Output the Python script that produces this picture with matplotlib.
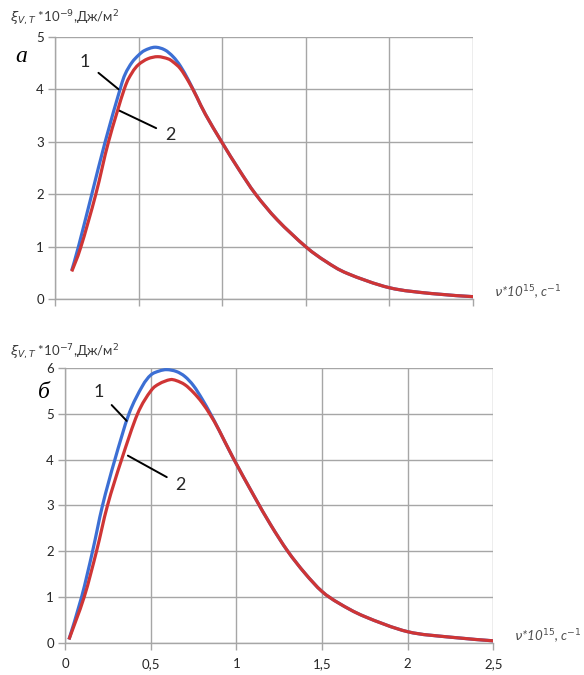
import matplotlib
matplotlib.use("Agg")
import matplotlib.pyplot as plt
from matplotlib.path import Path
from matplotlib.patches import PathPatch

plt.rcParams['font.family'] = ['Lato', 'Noto Sans', 'DejaVu Sans']
plt.rcParams['mathtext.fontset'] = 'dejavusans'

# panel a (values *10^-9)
a_x1 = [0.10, 0.14, 0.22, 0.30, 0.389, 0.42, 0.46, 0.50, 0.537, 0.597, 0.656, 0.706,
        0.75, 0.80, 0.85, 0.90, 1.00, 1.10, 1.20, 1.33, 1.50, 1.62, 1.75, 2.00, 2.25, 2.50]
a_y1 = [0.55, 1.0, 2.0, 3.0, 4.0, 4.29, 4.51, 4.65, 4.74, 4.80, 4.75, 4.62,
        4.44, 4.16, 3.84, 3.52, 2.98, 2.47, 2.0, 1.51, 1.0, 0.72, 0.49, 0.22, 0.11, 0.05]
a_x2 = [0.10, 0.155, 0.244, 0.32, 0.414, 0.46, 0.50, 0.555, 0.615, 0.675, 0.706,
        0.75, 0.80, 0.85, 0.90, 1.00, 1.10, 1.20, 1.33, 1.50, 1.62, 1.75, 2.00, 2.25, 2.50]
a_y2 = [0.53, 1.0, 2.0, 3.0, 4.0, 4.31, 4.47, 4.58, 4.62, 4.58, 4.52,
        4.39, 4.14, 3.84, 3.52, 2.98, 2.47, 2.0, 1.51, 1.0, 0.72, 0.49, 0.22, 0.11, 0.05]

# panel b (values *10^-7)
b_x1 = [0.023, 0.097, 0.161, 0.219, 0.291, 0.373, 0.45, 0.50, 0.55, 0.595, 0.65, 0.70,
        0.75, 0.80, 0.85, 0.90, 0.98, 1.10, 1.20, 1.30, 1.40, 1.50, 1.60, 1.75, 2.00,
        2.25, 2.50]
b_y1 = [0.07, 1.0, 2.0, 3.0, 4.0, 5.0, 5.6, 5.85, 5.94, 5.97, 5.93, 5.82,
        5.62, 5.33, 5.0, 4.64, 4.05, 3.23, 2.58, 2.0, 1.52, 1.12, 0.86, 0.57, 0.24,
        0.12, 0.04]
b_x2 = [0.023, 0.112, 0.184, 0.248, 0.33, 0.423, 0.50, 0.55, 0.612, 0.65, 0.70,
        0.75, 0.80, 0.85, 0.90, 0.98, 1.10, 1.20, 1.30, 1.40, 1.50, 1.60, 1.75, 2.00,
        2.25, 2.50]
b_y2 = [0.07, 1.0, 2.0, 3.0, 4.0, 5.0, 5.5, 5.66, 5.75, 5.73, 5.64,
        5.47, 5.25, 4.97, 4.64, 4.05, 3.23, 2.58, 2.0, 1.52, 1.12, 0.86, 0.57, 0.24,
        0.12, 0.04]

x_ticks = [0, 0.5, 1, 1.5, 2, 2.5]
x_tick_labels = ['0', '0,5', '1', '1,5', '2', '2,5']

blue = '#3c6fd4'
red = '#cf3535'
grid_c = '#a6a6a6'

fig = plt.figure(figsize=(5.84, 6.75), dpi=100)
ax_a = fig.add_axes([0.0942, 0.5566, 0.7158, 0.389])
ax_b = fig.add_axes([0.1113, 0.0479, 0.7334, 0.4065])


def style(ax, ymax, labels):
    ax.set_xlim(0, 2.5)
    ax.set_ylim(0, ymax)
    ax.set_xticks(x_ticks)
    ax.set_yticks(range(ymax + 1))
    if labels:
        ax.set_xticklabels(x_tick_labels)
    else:
        ax.set_xticklabels([])
    ax.grid(True, color=grid_c, lw=1.0)
    ax.set_axisbelow(True)
    for s in ['top', 'right']:
        ax.spines[s].set_visible(False)
    for s in ['left', 'bottom']:
        ax.spines[s].set_color(grid_c)
        ax.spines[s].set_linewidth(1.0)
    ax.tick_params(length=5, width=1.0, color=grid_c, labelsize=9.5,
                   labelcolor='#262626', pad=3)
    ax.tick_params(axis='x', pad=6)


def smooth_line(ax, xs, ys, color, z):
    # excel-like smoothed line: cubic bezier segments through the points
    pts = list(zip(xs, ys))
    n = len(pts)
    verts = [pts[0]]
    codes = [Path.MOVETO]
    for i in range(n - 1):
        p0 = pts[max(i - 1, 0)]
        p1 = pts[i]
        p2 = pts[i + 1]
        p3 = pts[min(i + 2, n - 1)]
        c1 = (p1[0] + (p2[0] - p0[0]) / 6, p1[1] + (p2[1] - p0[1]) / 6)
        c2 = (p2[0] - (p3[0] - p1[0]) / 6, p2[1] - (p3[1] - p1[1]) / 6)
        verts += [c1, c2, p2]
        codes += [Path.CURVE4] * 3
    patch = PathPatch(Path(verts, codes), facecolor='none', edgecolor=color,
                      lw=2.3, capstyle='butt', joinstyle='round', zorder=z)
    ax.add_patch(patch)


style(ax_a, 5, False)
style(ax_b, 6, True)

smooth_line(ax_a, a_x1, a_y1, blue, 3)
smooth_line(ax_a, a_x2, a_y2, red, 4)
smooth_line(ax_b, b_x1, b_y1, blue, 3)
smooth_line(ax_b, b_x2, b_y2, red, 4)

lbl_kw = dict(fontsize=13, color='#262626', ha='center', va='center')
line_kw = dict(arrowstyle='-', color='black', lw=1.4, shrinkA=5, shrinkB=0)

ax_a.annotate('1', xy=(0.38, 4.0), xytext=(0.18, 4.52), arrowprops=line_kw, **lbl_kw)
ax_a.annotate('2', xy=(0.38, 3.6), xytext=(0.69, 3.13), arrowprops=line_kw, **lbl_kw)
ax_b.annotate('1', xy=(0.36, 4.85), xytext=(0.198, 5.49), arrowprops=line_kw, **lbl_kw)
ax_b.annotate('2', xy=(0.367, 4.09), xytext=(0.676, 3.45), arrowprops=line_kw, **lbl_kw)

fig.text(15 / 584, 1 - 57 / 675, 'а', fontsize=17, style='italic',
         family='Liberation Serif', ha='left', va='center')
fig.text(38 / 584, 1 - 393 / 675, 'б', fontsize=17, style='italic',
         family='Liberation Serif', ha='left', va='center')

ylab_kw = dict(fontsize=9.5, color='#3a3a3a', ha='left', va='center')
fig.text(10 / 584, 1 - 18 / 675,
         r'$\xi_{V,T}$ *10$^{-9}$,Дж/м$^{2}$', **ylab_kw)
fig.text(10 / 584, 1 - 352 / 675,
         r'$\xi_{V,T}$ *10$^{-7}$,Дж/м$^{2}$', **ylab_kw)

xlab_kw = dict(fontsize=9.5, color='#505050', style='italic', ha='left', va='center')
fig.text(494 / 584, 1 - 293 / 675, r'$\mathit{\nu}$*10$^{15}$, с$^{-1}$', **xlab_kw)
fig.text(514 / 584, 1 - 637 / 675, r'$\mathit{\nu}$*10$^{15}$, с$^{-1}$', **xlab_kw)

fig.savefig('out.png', dpi=100)
